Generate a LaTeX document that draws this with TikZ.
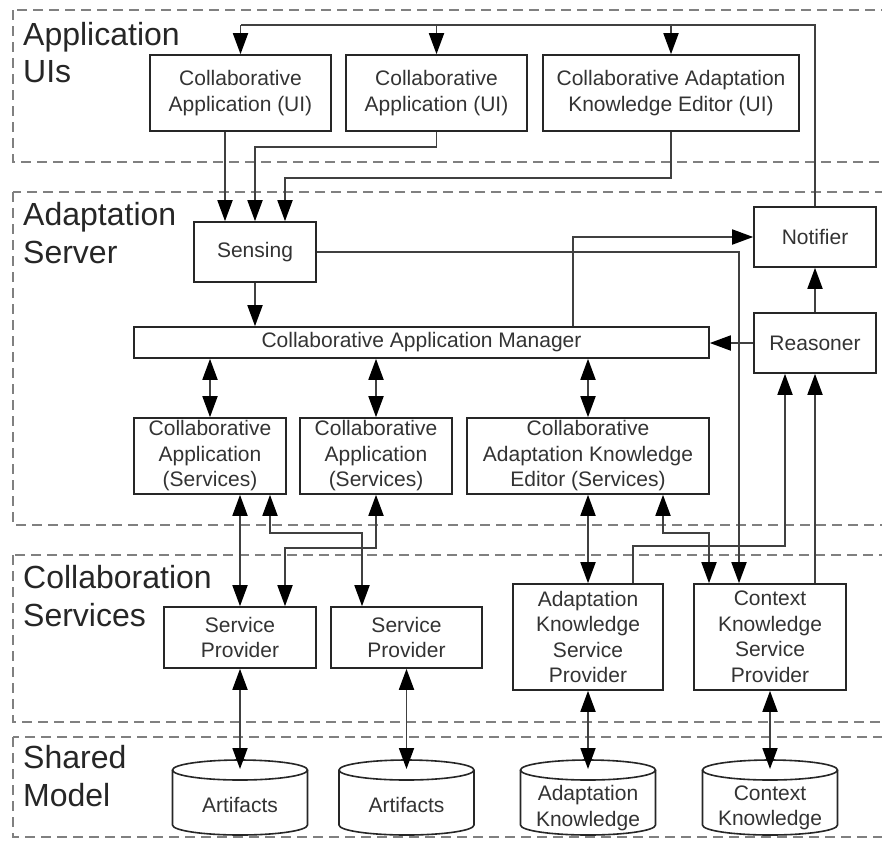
\documentclass[tikz,border=0pt]{standalone}
\usepackage{fontspec}
\setmainfont{Liberation Sans}
\usetikzlibrary{arrows.meta,calc}
\newcommand\myboxfont{\fontsize{21}{25.5}\selectfont}
\newcommand\mylayerfont{\fontsize{32}{37}\selectfont}
\tikzset{
  box/.style={draw=black!85, line width=1.6pt, fill=white, inner sep=0pt, align=center, font=\myboxfont, text=black!80},
  layer/.style={draw=black!50, line width=2.6pt, dash pattern=on 10pt off 6pt},
  conn/.style={draw=black!75, line width=1.8pt},
  arr/.style={conn, -{Triangle[length=21pt,width=15pt,fill=black,color=black]}},
  darr/.style={conn, {Triangle[length=21pt,width=15pt,fill=black,color=black]}-{Triangle[length=21pt,width=15pt,fill=black,color=black]}},
  big/.style={font=\mylayerfont, text=black!85, anchor=base west, inner sep=0pt},
  cyl/.style={draw=black!85, line width=1.6pt},
  cyltext/.style={inner sep=0pt, align=center, font=\myboxfont, text=black!80}
}
\newcommand\mycyl[1]{%
  \draw[cyl] (#1-67.5,770) -- (#1-67.5,825) arc[start angle=180,end angle=360,x radius=67.5pt,y radius=10pt] -- (#1+67.5,770);
  \draw[cyl] (#1,770) ellipse[x radius=67.5pt,y radius=10pt];}
\begin{document}
\begin{tikzpicture}[x=1pt,y=-1pt]
\useasboundingbox (0,0) rectangle (882,841);
\clip (0,0) rectangle (882,841);
\fill[white] (0,0) rectangle (882,841);
% layers
\draw[layer] (13,10) rectangle (900,162);
\draw[layer] (13,192) rectangle (900,525);
\draw[layer] (13,555) rectangle (900,722);
\draw[layer] (13,737) rectangle (900,837);
\node[big] (l1a) at (23,45) {Application};
\node[big] (l1b) at (23,82) {UIs};
\node[big] (l2a) at (23,225) {Adaptation};
\node[big] (l2b) at (23,263) {Server};
\node[big] (l3a) at (23,588) {Collaboration};
\node[big] (l3b) at (23,626) {Services};
\node[big] (l4a) at (23,768) {Shared};
\node[big] (l4b) at (23,806) {Model};
% UI boxes
\node[box, minimum width=181, minimum height=76] (ui1) at (240.5,93) {Collaborative\\Application (UI)};
\node[box, minimum width=181, minimum height=76] (ui2) at (436.5,93) {Collaborative\\Application (UI)};
\node[box, minimum width=256, minimum height=76] (ui3) at (671,93) {Collaborative Adaptation\\Knowledge Editor (UI)};
% server
\node[box, minimum width=122, minimum height=60] (sens) at (255,252) {Sensing};
\node[box, minimum width=122, minimum height=60] (notif) at (815,237) {Notifier};
\node[box, minimum width=122, minimum height=60] (reas) at (815,343) {Reasoner};
\node[box, minimum width=575, minimum height=31] (cam) at (421.5,342.5) {Collaborative Application Manager};
\node[box, minimum width=152, minimum height=76] (cas1) at (210,456) {Collaborative\\Application\\(Services)};
\node[box, minimum width=152, minimum height=76] (cas2) at (376,456) {Collaborative\\Application\\(Services)};
\node[box, minimum width=242, minimum height=76] (cake) at (588,456) {Collaborative\\Adaptation Knowledge\\Editor (Services)};
% providers
\node[box, minimum width=152, minimum height=61] (sp1) at (240,637.5) {Service\\Provider};
\node[box, minimum width=151, minimum height=61] (sp2) at (406.5,637.5) {Service\\Provider};
\node[box, minimum width=150, minimum height=106] (aksp) at (588,637) {Adaptation\\Knowledge\\Service\\Provider};
\node[box, minimum width=152, minimum height=106] (cksp) at (770,637) {Context\\Knowledge\\Service\\Provider};
% cylinders
\mycyl{240}
\mycyl{406.5}
\mycyl{588}
\mycyl{770}
\node[cyltext] (art1) at (240,805) {Artifacts};
\node[cyltext] (art2) at (406.5,805) {Artifacts};
\node[cyltext] (ak) at (588,808) {Adaptation\\Knowledge};
\node[cyltext] (ck) at (770,808) {Context\\Knowledge};
\coordinate (art1t) at (240,769);
\coordinate (art2t) at (406.5,769);
\coordinate (akt) at (588,769);
\coordinate (ckt) at (770,769);
% top bus
\coordinate (busy) at (0,25);
\draw[conn] (notif.north) |- (ui1.north |- busy);
\draw[arr] (ui1.north |- busy) -- (ui1.north);
\draw[arr] (ui2.north |- busy) -- (ui2.north);
\draw[arr] (ui3.north |- busy) -- (ui3.north);
% UIs to sensing
\coordinate (s1) at ($(sens.north)+(-30,0)$);
\coordinate (s3) at ($(sens.north)+(30,0)$);
\draw[arr] (ui1.south -| s1) -- (s1);
\draw[arr] (ui2.south) -- ++(0,15) -| (sens.north);
\draw[arr] (ui3.south) -- ++(0,46) -| (s3);
% sensing
\draw[arr] (sens.south) -- (sens.south |- cam.north);
\draw[arr] (sens.east) -| ($(cksp.north)+(-31,0)$);
\draw[arr] ($(cam.north)+(151.5,0)$) |- (notif.west);
\draw[arr] (reas.north) -- (notif.south);
\draw[arr] (reas.west) -- (cam.east |- reas.west);
% CAM to services
\draw[darr] (cam.south -| cas1.north) -- (cas1.north);
\draw[darr] (cam.south -| cas2.north) -- (cas2.north);
\draw[darr] (cam.south -| cake.north) -- (cake.north);
% services to providers
\draw[darr] (sp1.north |- cas1.south) -- (sp1.north);
\draw[darr] ($(cas1.south)+(60,0)$) -- ++(0,38) -| ($(sp2.north)+(-44.5,0)$);
\draw[darr] (cas2.south) -- ++(0,53) -| ($(sp1.north)+(45,0)$);
\draw[darr] (cake.south) -- (aksp.north);
\draw[darr] ($(cake.south)+(75,0)$) -- ++(0,38) -| ($(cksp.north)+(-61,0)$);
\draw[arr] ($(aksp.north)+(45,0)$) -- ++(0,-37) -| ($(reas.south)+(-30,0)$);
\draw[arr] (reas.south |- cksp.north) -- (reas.south);
% providers to stores
\draw[darr] (sp1.south) -- (art1t);
\draw[darr] (sp2.south) -- (art2t);
\draw[darr] (aksp.south) -- (akt);
\draw[darr] (cksp.south) -- (ckt);
\end{tikzpicture}
\end{document}
